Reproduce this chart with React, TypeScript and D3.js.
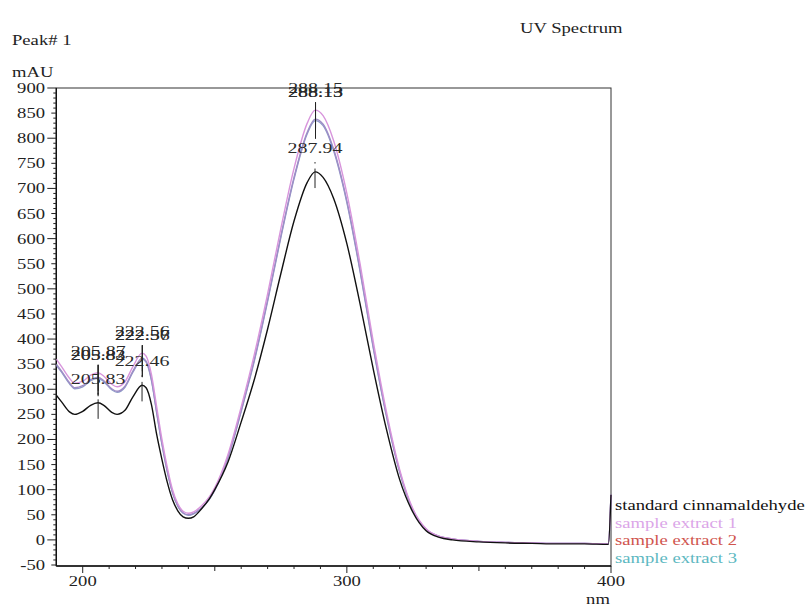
import React from 'react'
import * as d3 from 'd3'

// wavelength grid (nm) shared by all spectra
const wavelengths = [
  190, 192, 195, 197, 200, 203, 205.8, 208, 211, 213, 216, 219, 222.5, 224, 226,
  228, 230, 232, 234, 236, 238, 240, 242, 245, 248, 250, 255, 260, 265, 270,
  275, 280, 285, 288, 291, 295, 300, 305, 310, 315, 320, 325, 330, 335, 340,
  350, 360, 370, 380, 390, 399, 400
]

// absorbance (mAU)
const standardValues = [
  288, 275, 255, 250, 256, 268, 273, 268, 254, 250, 258, 285, 308, 303, 270,
  210, 160, 115, 80, 58, 46, 43, 46, 62, 82, 100, 155, 235, 320, 420,
  530, 635, 712, 733, 722, 680, 590, 470, 340, 220, 120, 55, 18, 5, 0,
  -4, -6, -7, -8, -8, -9, 90
]
const sample1Values = [
  360, 345, 322, 312, 316, 328, 333, 326, 310, 305, 315, 345, 372, 366, 330,
  265, 200, 145, 100, 72, 57, 53, 56, 68, 86, 104, 170, 265, 370, 490,
  620, 740, 830, 856, 845, 795, 690, 550, 395, 255, 140, 62, 22, 7, 2,
  -3, -5, -6, -7, -7, -8, 90
]
const sample2Values = [
  350, 336, 313, 303, 307, 319, 324, 317, 301, 296, 306, 336, 362, 356, 320,
  255, 192, 138, 95, 68, 54, 50, 53, 64, 82, 100, 165, 258, 360, 478,
  605, 722, 812, 838, 828, 778, 675, 538, 385, 248, 136, 60, 21, 7, 2,
  -3, -5, -6, -7, -7, -8, 90
]
const sample3Values = [
  348, 334, 311, 301, 305, 317, 322, 315, 299, 294, 304, 334, 360, 354, 318,
  253, 190, 136, 94, 67, 53, 49, 52, 63, 81, 99, 163, 256, 357, 475,
  602, 719, 809, 835, 825, 775, 672, 535, 382, 246, 135, 59, 21, 7, 2,
  -3, -5, -6, -7, -7, -8, 90
]

// detected peak wavelengths
const standardPeaks = [205.83, 222.46, 287.94]
const sample1Peaks = [205.87, 222.56, 288.15]
const sample2Peaks = [205.82, 222.57, 288.13]
const sample3Peaks = [205.83, 222.56, 288.13]

const seriesNames = ['standard cinnamaldehyde', 'sample extract 1', 'sample extract 2', 'sample extract 3']
const legendColors = ['#111111', '#dba6e8', '#d0544e', '#5db8c1']
const lineColors = ['#111111', '#d895dc', '#9f8cc6', '#8f9cc8']

const xTicks = d3.range(200, 401, 10)
const yTicks = d3.range(-50, 901, 10)

const W = 809
const H = 606
const SX = 1.33
const FONT = "'Liberation Serif', 'Times New Roman', serif"

const Txt = ({ x, y, anchor = 'start', size = 14, fill = '#222', children }: any) => (
  <text
    transform={`translate(${x},${y}) scale(${SX},1)`}
    textAnchor={anchor}
    fontSize={size}
    fill={fill}
  >
    {children}
  </text>
)

export default function App() {
  const x = d3.scaleLinear().domain([190, 400]).range([56.3, 611])
  const y = d3.scaleLinear().domain([-50, 900]).range([565, 88])
  const left = x(190)
  const right = x(400)
  const top = y(900)
  const bottom = y(-50) + 1

  const all = [standardValues, sample1Values, sample2Values, sample3Values]
  const peaks = [standardPeaks, sample1Peaks, sample2Peaks, sample3Peaks]
  const interps = all.map(vals => d3.scaleLinear().domain(wavelengths).range(vals))

  const line = d3
    .line<number>()
    .x((_, i) => x(wavelengths[i]))
    .y(d => y(d))
    .curve(d3.curveMonotoneX)

  // draw order: samples first (3, 2, 1), standard last
  const order = [3, 2, 1, 0]

  return (
    <svg
      width={W}
      height={H}
      style={{ position: 'absolute', left: 0, top: 0, background: '#fff' }}
      fontFamily={FONT}
    >
      <defs>
        <clipPath id="plot">
          <rect x={left} y={top - 2} width={right - left + 2} height={bottom - top + 2} />
        </clipPath>
      </defs>

      <Txt x={520} y={33}>UV Spectrum</Txt>
      <Txt x={12} y={45}>Peak# 1</Txt>
      <Txt x={12} y={77}>mAU</Txt>

      {/* frame */}
      <rect x={left} y={top} width={right - left} height={bottom - top} fill="none" stroke="#333" strokeWidth={1} />
      <line x1={left} x2={left} y1={top} y2={bottom} stroke="#111" strokeWidth={1.4} />
      <line x1={left} x2={right} y1={bottom} y2={bottom} stroke="#111" strokeWidth={1.4} />

      {/* y axis */}
      {yTicks.map(v => {
        const len = v % 100 === 0 ? 9 : v % 50 === 0 ? 5 : 3
        return (
          <g key={'y' + v}>
            <line x1={left - len} x2={left} y1={y(v)} y2={y(v)} stroke="#222" strokeWidth={1} />
            {v % 50 === 0 && (
              <Txt x={45} y={y(v) + 5} anchor="end">{v}</Txt>
            )}
          </g>
        )
      })}

      {/* x axis */}
      {xTicks.map(v => {
        const len = v % 100 === 0 ? 7 : v % 50 === 0 ? 5 : 3
        return (
          <g key={'x' + v}>
            <line x1={x(v)} x2={x(v)} y1={bottom} y2={bottom + len} stroke="#222" strokeWidth={1} />
            {v % 100 === 0 && (
              <Txt x={x(v)} y={bottom + 20} anchor="middle">{v}</Txt>
            )}
          </g>
        )
      })}
      <Txt x={598} y={604} anchor="middle">nm</Txt>

      {/* spectra */}
      <g clipPath="url(#plot)">
        {order.map(i => (
          <path
            key={'s' + i}
            d={line(all[i]) || ''}
            fill="none"
            stroke={lineColors[i]}
            strokeWidth={1.4}
          />
        ))}
      </g>

      {/* peak markers */}
      {order.map(i =>
        peaks[i].map((p, k) => {
          const px = x(p)
          if (i === 0) {
            const py = y(interps[0](p))
            return (
              <g key={`p${i}-${p}`}>
                <line x1={px} x2={px} y1={py - 10} y2={py + 16} stroke="#222" strokeWidth={1} strokeDasharray="1.5 5 20" />
                <Txt x={px} y={py - 19} anchor="middle" size={15} fill="#2a2a2a">{p.toFixed(2)}</Txt>
              </g>
            )
          }
          // sample labels sit above the highest sample curve at that peak
          const top3 = d3.max([1, 2, 3], j => interps[j](peaks[j][k])) as number
          const gy = y(top3)
          const py = y(interps[i](p))
          return (
            <g key={`p${i}-${p}`}>
              <line x1={px} x2={px} y1={gy - 8} y2={py + 18} stroke="#222" strokeWidth={1} />
              <Txt x={px} y={gy - 17 + (i === 1 ? 0 : 4)} anchor="middle" size={15} fill="#2a2a2a">
                {p.toFixed(2)}
              </Txt>
            </g>
          )
        })
      )}

      {/* legend */}
      {seriesNames.map((name, i) => (
        <Txt key={name} x={615} y={510 + i * 17.5} fill={legendColors[i]}>
          {name}
        </Txt>
      ))}
    </svg>
  )
}
